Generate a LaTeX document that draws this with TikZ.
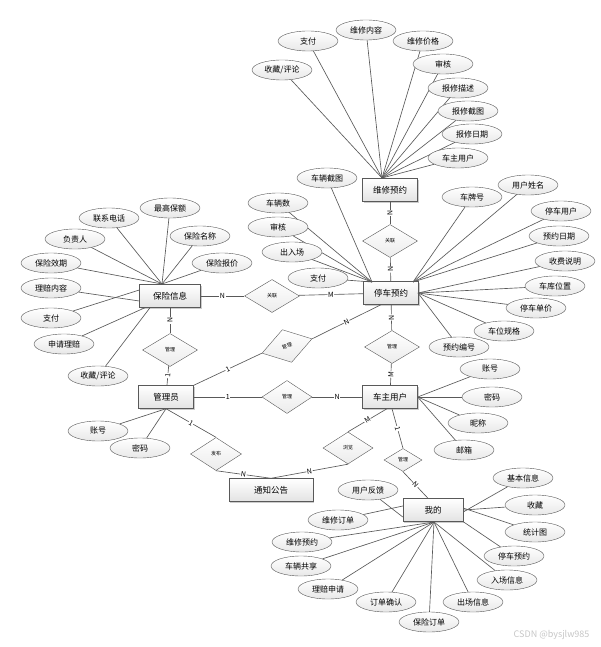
\documentclass[tikz,border=0pt]{standalone}
\usepackage{fontspec}
\setmainfont{Noto Sans CJK SC}
\usetikzlibrary{shapes.geometric,shadows}

\tikzset{
  entity/.style={draw=gray!70!black, top color=white, bottom color=gray!22,
    minimum width=55pt, minimum height=23pt, inner sep=1pt,
    font=\fontsize{8.5}{9}\selectfont,
    drop shadow={shadow xshift=1.4pt, shadow yshift=-1.4pt, opacity=0.4}},
  attr/.style={ellipse, draw=gray!70!black, top color=white, bottom color=gray!18,
    minimum width=60pt, minimum height=20pt, inner sep=0pt,
    font=\fontsize{8}{8}\selectfont},
  rel/.style={diamond, draw=gray!70!black, top color=white, bottom color=gray!15,
    minimum width=55pt, minimum height=33pt, inner sep=0pt,
    font=\fontsize{5}{6}\selectfont},
  card/.style={fill=white, inner sep=0.6pt, sloped, font=\fontsize{7}{7}\selectfont},
  link/.style={draw=gray!70!black, line width=0.65pt},
}

\begin{document}
\begin{tikzpicture}[x=1pt, y=-1pt]
  \path[use as bounding box] (0,0) rectangle (601,647);

  % entities
  \node[entity] (wxyy) at (390,190) {维修预约};
  \node[entity] (tcyy) at (391,293) {停车预约};
  \node[entity, minimum width=61pt] (bxxx) at (170,296) {保险信息};
  \node[entity] (gly) at (166,397) {管理员};
  \node[entity] (czyh) at (390,397) {车主用户};
  \node[entity, minimum width=84pt] (tzgg) at (271,490) {通知公告};
  \node[entity, minimum width=60pt] (wode) at (433,510) {我的};

  % relations
  \node[rel] (gl1) at (390,241) {关联};
  \node[rel] (gl2) at (272,296) {关联};
  \node[rel] (gl3) at (170,350) {管理};
  \node[rel, minimum width=52pt, minimum height=34pt, rotate=16] (gl4) at (287,346) {管理};
  \node[rel] (gl5) at (392,347) {管理};
  \node[rel, minimum width=50pt] (gl6) at (287,397) {管理};
  \node[rel, minimum width=51pt] (fb) at (216,454) {发布};
  \node[rel, minimum width=50pt, minimum height=32pt] (ll) at (348,448) {浏览};
  \node[rel, minimum width=38pt, minimum height=23pt] (gl7) at (403,460) {管理};

  \draw[link] (wxyy) -- node[card] {N} (gl1);
  \draw[link] (gl1) -- node[card] {N} (tcyy);
  \draw[link] (bxxx) -- node[card] {N} (gl2);
  \draw[link] (gl2) -- node[card] {M} (tcyy);
  \draw[link] (bxxx) -- node[card] {N} (gl3);
  \draw[link] (gl3) -- node[card] {1} (gly);
  \draw[link] (gly.north east) -- node[card] {1} (gl4.west);
  \draw[link] (gl4.east) -- node[card] {N} ([xshift=-10pt]tcyy.south);
  \draw[link] (tcyy) -- node[card] {N} (gl5);
  \draw[link] (gl5) -- node[card] {M} (czyh);
  \draw[link] (gly) -- node[card] {1} (gl6);
  \draw[link] (gl6) -- node[card] {N} (czyh);
  \draw[link] (gly.south) -- node[card] {1} (fb.north);
  \draw[link] (fb.south) -- node[card] {N} (tzgg.north);
  \draw[link] (tzgg.north) -- node[card] {N} (ll.south);
  \draw[link] (ll.north) -- node[card] {M} ([xshift=-3pt]czyh.south);
  \draw[link] ([xshift=2pt]czyh.south) -- node[card] {1} (gl7.north);
  \draw[link] (gl7.south) -- node[card] {N} ([xshift=-5pt]wode.north);

  % attribute hubs
  \coordinate (wxhub) at (382,178);
  \coordinate (tchubl) at (372,282);
  \coordinate (tchubr) at (413,282);
  \coordinate (tchube) at (418,293);
  \coordinate (bxhub) at (162,284);
  \coordinate (wdhub) at (434,522);

  % 维修预约
  \foreach \p/\t [count=\i] in {{282,70}/{收藏/评论}, {308,41}/支付, {366,30}/维修内容,
      {423,41}/维修价格, {443,64}/审核, {458,88}/报修描述, {468,111}/报修截图,
      {472,134}/报修日期, {458,158}/车主用户} {
    \node[attr] (wx\i) at (\p) {\t};
    \draw[link] (wx\i) -- (wxhub);
  }

  % 停车预约
  \foreach \p/\t [count=\i] in {{327,178}/车辆截图, {278,203}/车辆数, {278,227}/审核,
      {292,252}/出入场, {318,278}/支付} {
    \node[attr] (tcl\i) at (\p) {\t};
    \draw[link] (tcl\i) -- (tchubl);
  }
  \foreach \p/\t [count=\i] in {{472,197}/车牌号, {528,185}/用户姓名, {561,211}/停车用户,
      {559,236}/预约日期} {
    \node[attr] (tcr\i) at (\p) {\t};
    \draw[link] (tcr\i) -- (tchubr);
  }
  \foreach \p/\t [count=\i] in {{565,261}/收费说明, {555,286}/车库位置, {536,308}/停车单价,
      {504,331}/车位规格, {459,347}/预约编号} {
    \node[attr] (tce\i) at (\p) {\t};
    \draw[link] (tce\i) -- (tchube);
  }

  % 保险信息
  \foreach \p/\t [count=\i] in {{170,208}/最高保额, {109,218}/联系电话, {75,239}/负责人,
      {200,236}/保险名称, {51,263}/保险效期, {222,263}/保险报价} {
    \node[attr] (bx\i) at (\p) {\t};
    \draw[link] (bx\i) -- (bxhub);
  }
  \node[attr] (bxlp) at (51,288) {理赔内容};
  \node[attr] (bxzf) at (51,318) {支付};
  \node[attr] (bxsq) at (64,344) {申请理赔};
  \node[attr] (bxsc) at (98,376) {收藏/评论};
  \draw[link] (bxlp) -- ([yshift=-5pt]bxxx.west);
  \draw[link] (bxzf) -- ([yshift=6pt]bxxx.west);
  \draw[link] (bxsq) -- ([xshift=-25pt]bxxx.south);
  \draw[link] (bxsc) -- ([xshift=-20pt]bxxx.south);

  % 管理员
  \node[attr] (glzh) at (98,431) {账号};
  \node[attr] (glmm) at (140,448) {密码};
  \draw[link] (glzh) -- (gly.south);
  \draw[link] (glmm) -- (gly.south);

  % 车主用户
  \foreach \p/\t [count=\i] in {{490,369}/账号, {492,397}/密码, {478,423}/昵称, {464,450}/邮箱} {
    \node[attr] (cz\i) at (\p) {\t};
    \draw[link] (cz\i) -- (czyh.east);
  }

  % 我的
  \node[attr] (wdfk) at (368,490) {用户反馈};
  \node[attr] (wdwd) at (338,520) {维修订单};
  \draw[link] (wdfk) -- ([yshift=-7pt]wode.west);
  \draw[link] (wdwd) -- ([yshift=4pt]wode.west);
  \foreach \p/\t [count=\i] in {{302,542}/维修预约, {301,566}/车辆共享, {328,589}/理赔申请,
      {386,602}/订单确认, {429,622}/保险订单, {473,602}/出场信息, {507,580}/入场信息} {
    \node[attr] (wd\i) at (\p) {\t};
    \draw[link] (wd\i) -- (wdhub);
  }
  \node[attr] (wdjb) at (523,478) {基本信息};
  \node[attr] (wdsc) at (535,505) {收藏};
  \node[attr] (wdtj) at (535,532) {统计图};
  \node[attr] (wdtc) at (514,556) {停车预约};
  \draw[link] (wdjb) -- ([yshift=-2pt]wode.east);
  \draw[link] (wdsc) -- (wode.east);
  \draw[link] (wdtj) -- ([yshift=2pt]wode.east);
  \draw[link] (wdtc) -- (wode.south east);

  \node[text=gray!45, anchor=east, font=\fontsize{9}{9}\selectfont] (wm) at (593,635) {CSDN @bysjlw985};
\end{tikzpicture}
\end{document}
